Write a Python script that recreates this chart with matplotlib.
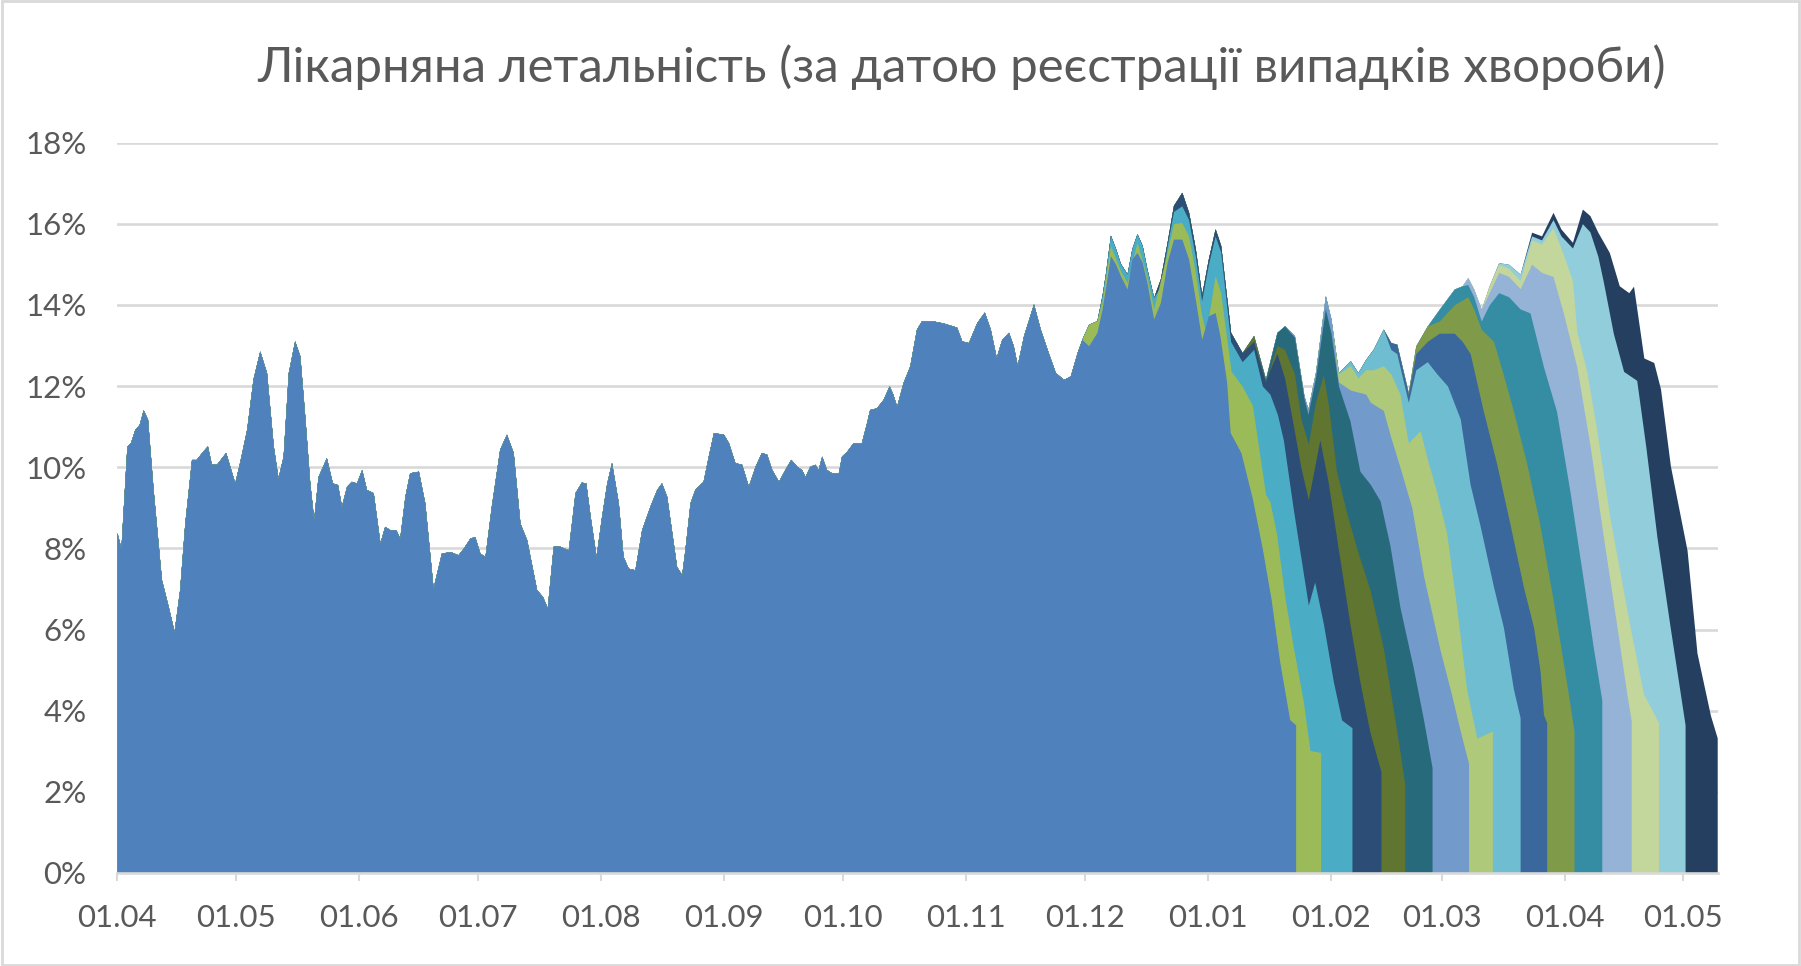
import matplotlib.pyplot as plt
from matplotlib.patches import Rectangle
import pandas as pd

plt.rcParams['font.family'] = ['Lato', 'DejaVu Sans']

title = 'Лікарняна летальність (за датою реєстрації випадків хвороби)'
start = pd.Timestamp('2020-04-01')
months = pd.date_range('2020-04-01', '2021-05-01', freq='MS')
tick_pos = [(m - start).days for m in months]
tick_lab = [m.strftime('%d.%m') for m in months]
y_ticks = [0, 2, 4, 6, 8, 10, 12, 14, 16, 18]

# day offset from 01.04.2020, lethality in %; the part shared by every snapshot
base = [(0, 8.38), (1, 8.0), (2.5, 10.52), (3.4, 10.6), (4.5, 10.93), (5.6, 11.05), (6.6, 11.41),
        (7.7, 11.18), (9.1, 9.45), (11.2, 7.23), (12.9, 6.57), (14.4, 5.95), (15.8, 6.98), (17.1, 8.62),
        (18.8, 10.19), (20.0, 10.19), (21.6, 10.39), (22.8, 10.52), (23.8, 10.07), (25.1, 10.07),
        (27.4, 10.36), (29.7, 9.61), (31.0, 10.15), (32.7, 10.93), (34.3, 12.17), (36.0, 12.86),
        (37.7, 12.33), (39.4, 10.52), (40.6, 9.73), (41.9, 10.27), (43.2, 12.33), (44.8, 13.11),
        (46.1, 12.74), (47.4, 11.18), (48.6, 9.61), (49.6, 8.71), (50.7, 9.77), (52.8, 10.23),
        (54.3, 9.61), (55.6, 9.57), (56.6, 9.04), (57.9, 9.53), (59.1, 9.65), (60.4, 9.61), (61.7, 9.94),
        (62.9, 9.45), (64.6, 9.37), (66.3, 8.13), (67.5, 8.54), (68.8, 8.46), (70.3, 8.46), (71.3, 8.25),
        (72.6, 9.28), (73.8, 9.86), (76.0, 9.90), (77.6, 9.12), (79.7, 7.02), (81.8, 7.88), (84.0, 7.92),
        (86.0, 7.84), (87.3, 8.00), (89.0, 8.25), (90.2, 8.29), (91.5, 7.88), (92.8, 7.80), (94.4, 9.04),
        (96.5, 10.44), (98.2, 10.81), (99.9, 10.36), (101.6, 8.62), (103.3, 8.21), (105.8, 6.98),
        (107.3, 6.81), (108.5, 6.53), (110.0, 8.05), (111.7, 8.05), (113.8, 7.96), (115.5, 9.37),
        (117.1, 9.63), (118.2, 9.61), (119.3, 8.79), (120.8, 7.80), (122.2, 8.79), (123.5, 9.61),
        (124.7, 10.11), (126.4, 9.12), (127.6, 7.80), (128.9, 7.51), (130.6, 7.47), (132.3, 8.46),
        (134.4, 9.04), (136.1, 9.45), (137.3, 9.61), (138.6, 9.28), (139.9, 8.38), (141.1, 7.55),
        (142.4, 7.35), (143.2, 7.96), (144.5, 9.12), (145.7, 9.45), (147.8, 9.65), (149.1, 10.27),
        (150.4, 10.85), (152.9, 10.81), (154.2, 10.60), (155.8, 10.11), (157.5, 10.07), (159.2, 9.53),
        (160.9, 10.02), (162.5, 10.36), (163.8, 10.32), (165.1, 9.94), (166.8, 9.65), (168.4, 9.94),
        (169.9, 10.19), (171.4, 10.02), (172.6, 9.94), (173.5, 9.77), (174.7, 10.02), (176.0, 10.07),
        (176.8, 9.94), (177.7, 10.27), (178.9, 9.94), (180.2, 9.86), (181.9, 9.86), (182.7, 10.27),
        (184.0, 10.39), (185.6, 10.60), (187.7, 10.60), (189.0, 11.09), (189.8, 11.42), (191.5, 11.46),
        (193.2, 11.67), (194.7, 12.00), (195.5, 11.83), (196.6, 11.50), (198.2, 12.08), (199.9, 12.49),
        (201.6, 13.40), (202.9, 13.61), (205.9, 13.60), (208.4, 13.55), (211.7, 13.45), (213.0, 13.11),
        (214.7, 13.07), (216.8, 13.56), (218.7, 13.82), (220.2, 13.40), (221.7, 12.70), (223.1, 13.15),
        (224.8, 13.32), (226.0, 12.99), (227.0, 12.51), (228.6, 13.24), (231.1, 14.02), (232.8, 13.40),
        (234.5, 12.91), (236.6, 12.33), (238.7, 12.16), (240.4, 12.25), (242.1, 12.82)]

# upper envelope (latest snapshot) from December on
top = [(243.3, 13.15), (245.0, 13.52), (247.1, 13.61), (248.4, 14.24), (249.2, 14.74), (250.5, 15.71),
       (251.8, 15.38), (253.0, 15.02), (254.7, 14.76), (255.9, 15.38), (257.2, 15.75), (258.5, 15.46),
       (259.7, 14.88), (261.4, 14.18), (263.1, 14.64), (264.8, 15.54), (266.4, 16.45), (268.5, 16.77),
       (270.2, 16.28), (271.9, 15.38), (273.5, 14.24), (275.2, 15.13), (276.9, 15.87), (278.3, 15.46),
       (280.8, 13.32), (283.7, 12.82), (286.6, 13.24), (289.6, 12.17), (292.5, 13.32), (294.4, 13.48),
       (296.9, 13.24), (299.3, 11.75), (300.3, 11.43), (302.2, 12.33), (304.7, 14.22), (306.1, 13.65),
       (308.0, 12.33), (311.0, 12.62), (312.9, 12.33), (314.9, 12.66), (316.8, 12.91), (319.3, 13.40),
       (321.2, 13.07), (322.7, 13.03), (325.6, 11.84), (327.5, 12.99), (330.4, 13.48), (333.4, 13.89),
       (337.2, 14.39), (339.2, 14.47), (340.6, 14.67), (342.1, 14.39), (344.0, 13.89), (346.0, 14.47),
       (348.4, 15.04), (350.9, 15.00), (353.8, 14.76), (356.7, 15.79), (359.2, 15.70), (362.1, 16.28),
       (364.1, 15.87), (367.0, 15.54), (369.5, 16.36), (371.4, 16.20), (373.4, 15.79), (376.3, 15.29),
       (378.8, 14.47), (381.2, 14.30)]

# each weekly snapshot leaves the envelope at its first point
tail_01 = [(245.0, 12.99), (247.1, 13.32), (248.4, 13.9), (249.2, 14.39), (250.5, 15.21), (251.8, 15.0),
           (253.0, 14.72), (254.7, 14.39), (255.9, 15.13), (257.2, 15.29), (258.5, 15.05), (259.7, 14.55),
           (261.4, 13.65), (263.1, 14.06), (264.8, 15.05), (266.4, 15.62), (268.5, 15.62), (270.2, 15.13),
           (271.9, 14.14), (273.5, 13.15), (275.2, 13.73), (276.9, 13.81), (278.1, 13.24), (279.8, 12.1),
           (280.7, 10.85), (283.4, 10.36), (286.3, 9.22), (288.8, 7.99), (291.0, 6.75), (293.2, 5.19),
           (295.7, 3.78), (297.2, 3.65)]
tail_02 = [(248.4, 14.1), (250.5, 15.46), (253.0, 14.85), (254.7, 14.55), (257.2, 15.54), (259.7, 14.7),
           (261.4, 13.9), (264.8, 15.3), (266.4, 16.0), (268.5, 16.03), (270.2, 15.7), (271.9, 14.8),
           (273.5, 13.73), (274.6, 13.3), (276.9, 14.72), (278.3, 14.3), (280.9, 12.37), (283.7, 12.0),
           (286.3, 11.52), (289.6, 9.34), (290.7, 9.15), (292.4, 8.35), (294.5, 6.78), (296.6, 5.57),
           (299.1, 4.25), (300.8, 3.02), (303.5, 2.97)]
tail_03 = [(263.1, 14.45), (264.8, 15.45), (266.4, 16.3), (268.5, 16.44), (270.2, 16.1), (271.9, 15.2),
           (273.5, 14.1), (275.2, 15.0), (276.9, 15.7), (278.3, 15.3), (280.8, 13.1), (283.7, 12.6),
           (286.6, 12.9), (288.8, 12.0), (290.7, 11.8), (292.6, 11.3), (294.1, 10.67), (296.6, 8.97),
           (300.4, 6.6), (302.0, 7.17), (304.2, 6.14), (306.7, 4.72), (308.8, 3.77), (311.4, 3.58)]
tail_04 = [(286.6, 13.1), (289.6, 12.1), (290.7, 12.4), (292.5, 12.8), (294.4, 12.2), (296.6, 11.04),
           (298.5, 10.0), (300.4, 9.2), (303.3, 10.67), (305.4, 9.63), (307.9, 8.02), (310.9, 6.13),
           (313.4, 4.71), (315.9, 3.48), (318.7, 2.5)]
tail_05 = [(289.6, 12.1), (292.5, 13.0), (294.4, 12.9), (296.9, 12.3), (298.5, 11.2), (300.4, 10.57),
           (302.2, 11.6), (304.2, 12.28), (305.5, 11.5), (307.5, 9.9), (310.0, 8.9), (312.6, 8.0),
           (316.0, 6.96), (319.3, 5.55), (321.8, 4.04), (323.5, 3.0), (324.7, 2.2)]
tail_06 = [(296.9, 13.2), (299.3, 11.7), (300.3, 11.3), (302.2, 12.2), (304.7, 13.9), (306.1, 13.3),
           (308.0, 12.0), (310.9, 11.14), (313.4, 9.9), (316.0, 9.58), (318.5, 9.17), (321.0, 8.06),
           (323.5, 6.55), (326.9, 5.04), (329.4, 3.8), (331.6, 2.6)]
tail_07 = [(308.0, 12.1), (311.0, 11.9), (314.9, 11.8), (316.0, 11.6), (319.3, 11.4), (321.0, 10.8),
           (323.5, 10.0), (326.5, 9.0), (329.5, 7.3), (333.6, 5.5), (336.5, 4.4), (338.7, 3.5), (340.8, 2.7)]
tail_08 = [(308.0, 12.3), (311.0, 12.5), (312.9, 12.2), (314.9, 12.4), (316.8, 12.4), (319.3, 12.5),
           (321.2, 12.3), (323.5, 11.8), (325.6, 10.6), (328.6, 10.9), (330.4, 10.2), (332.8, 9.37),
           (335.3, 8.36), (337.8, 6.55), (340.3, 4.53), (342.9, 3.32), (346.8, 3.5)]
tail_09 = [(321.2, 12.9), (322.7, 12.8), (325.6, 11.6), (327.5, 12.4), (330.4, 12.6), (332.8, 12.3),
           (335.5, 12.0), (338.7, 11.19), (341.2, 9.57), (343.7, 8.56), (347.1, 7.05), (349.6, 6.05),
           (352.1, 4.54), (353.8, 3.83)]
tail_10 = [(325.6, 11.8), (327.5, 12.8), (330.4, 13.1), (333.4, 13.3), (337.2, 13.3), (339.2, 13.1),
           (341.2, 12.8), (344.5, 11.39), (347.9, 10.08), (351.3, 8.57), (354.6, 7.06), (357.2, 6.05),
           (358.8, 5.0), (359.7, 3.9), (360.5, 3.7)]
tail_11 = [(333.4, 13.6), (337.2, 14.0), (340.6, 14.2), (342.1, 13.9), (344.0, 13.4), (347.1, 13.1),
           (349.5, 12.3), (352.1, 11.39), (355.5, 10.08), (358.8, 8.57), (362.0, 6.8), (364.5, 5.3),
           (366.3, 4.2), (367.4, 3.49)]
tail_12 = [(340.6, 14.5), (342.1, 14.2), (344.0, 13.6), (346.0, 14.0), (348.4, 14.3), (350.9, 14.2),
           (353.8, 13.9), (356.3, 13.8), (359.7, 12.47), (363.0, 11.37), (366.4, 9.38), (369.8, 7.18),
           (372.3, 5.53), (374.4, 4.26)]
tail_13 = [(346.0, 14.3), (348.4, 14.8), (350.9, 14.7), (353.8, 14.4), (356.7, 15.0), (359.2, 14.8),
           (362.1, 14.7), (364.7, 13.8), (368.1, 12.47), (371.5, 10.49), (374.8, 8.28), (378.2, 6.08),
           (380.7, 4.42), (381.8, 3.76)]
tail_14 = [(348.4, 15.0), (350.9, 14.9), (353.8, 14.6), (356.7, 15.6), (359.2, 15.5), (362.1, 15.9),
           (364.1, 15.4), (367.0, 14.6), (368.1, 13.35), (370.6, 12.36), (373.1, 10.93), (376.5, 8.72),
           (381.5, 6.08), (384.9, 4.42), (388.7, 3.71)]
tail_15 = [(356.7, 15.7), (359.2, 15.6), (362.1, 16.1), (364.1, 15.7), (367.0, 15.4), (369.5, 16.0),
           (371.4, 15.8), (373.4, 15.2), (374.8, 14.56), (377.3, 13.3), (379.9, 12.36), (383.2, 12.14),
           (385.5, 10.5), (388.3, 8.28), (391.6, 6.08), (394.2, 4.42), (395.4, 3.65)]
tail_16 = [(382.4, 14.46), (385.0, 12.69), (387.5, 12.58), (389.2, 11.93), (391.7, 10.03), (395.9, 7.95),
           (398.4, 5.42), (401.8, 3.88), (403.5, 3.33)]

tails = [tail_01, tail_02, tail_03, tail_04, tail_05, tail_06, tail_07, tail_08,
         tail_09, tail_10, tail_11, tail_12, tail_13, tail_14, tail_15, tail_16]
colors = ['#4F81BD', '#9BBB59', '#4BACC6', '#2C4D75', '#5F7530', '#276A7C', '#729ACA', '#AFC97A',
          '#6FBDD1', '#3A679C', '#7F9A48', '#358DA3', '#95B3D7', '#C3D69B', '#92CDDC', '#253F60']


def snapshot(tail):
    first = tail[0][0]
    pts = base + [p for p in top if p[0] < first] + tail
    return [p[0] for p in pts], [p[1] for p in pts]


fig = plt.figure(figsize=(18.01, 9.66), dpi=100)
W, H = 1801, 966
ax = fig.add_axes([117 / W, 1 - 873 / H, (1718 - 117) / W, (873 - 142.5) / H])

# latest snapshot at the back, first one in front
for i in range(len(tails) - 1, -1, -1):
    d, v = snapshot(tails[i])
    ax.fill_between(d, v, 0, color=colors[i], lw=0, zorder=2 + (15 - i) * 0.01)

ax.set_xlim(0, 403.7)
ax.set_ylim(0, 18)
ax.set_yticks(y_ticks)
ax.set_yticklabels(['%d%%' % t for t in y_ticks])
ax.set_xticks(tick_pos)
ax.set_xticklabels(tick_lab)
ax.yaxis.grid(True, color='#D9D9D9', lw=1.9)
ax.set_axisbelow(True)
for s in ['top', 'right', 'left']:
    ax.spines[s].set_visible(False)
ax.spines['bottom'].set_color('#D9D9D9')
ax.spines['bottom'].set_linewidth(1.9)
ax.spines['bottom'].set_zorder(5)
ax.tick_params(axis='y', length=0, pad=22, labelsize=22.5, labelcolor='#595959')
ax.tick_params(axis='x', length=6, width=1.5, color='#D9D9D9', pad=16, labelsize=22.5, labelcolor='#595959')

fig.text(0.534, 0.930, title, ha='center', va='center', fontsize=35.4, color='#595959')
fig.patches.append(Rectangle((0.001, 0.001), 0.998, 0.998, transform=fig.transFigure,
                             fill=False, edgecolor='#D9D9D9', lw=2))

fig.savefig('out.png', dpi=100)
